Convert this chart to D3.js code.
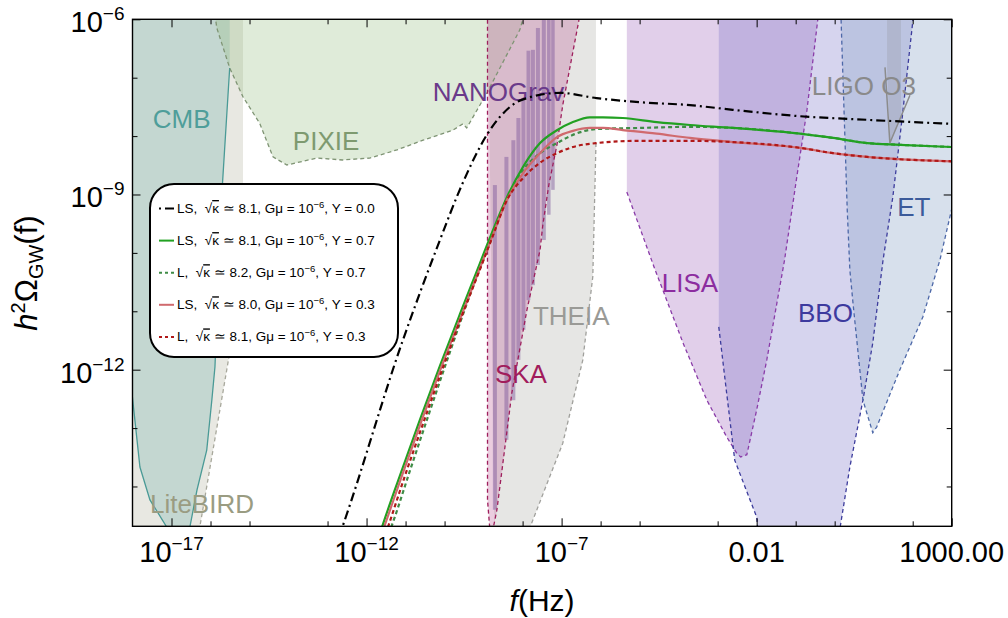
<!DOCTYPE html>
<html>
<head>
<meta charset="utf-8">
<script src="https://cdn.jsdelivr.net/npm/d3@7"></script>
<style>
  body { margin: 0; background: #fff; }
  svg { display: block; font-family: "Liberation Sans", Arial, sans-serif; }
</style>
</head>
<body>
<div id="chart"></div>
<script>
// ---------- data (f in Hz, h^2 Omega_GW) ----------

// tick values and labels
const xMajor = [1e-17, 1e-12, 1e-7, 1e-2, 1e3]
const xMinor = [1e-16, 1e-15, 1e-13, 1e-11, 1e-10, 1e-8, 1e-6, 1e-5, 1e-3, 1e-1, 1e0, 1e2]
const xTickLabels = [["10", "−17"], ["10", "−12"], ["10", "−7"], ["0.01", ""], ["1000.00", ""]]
const yMajor = [1e-12, 1e-9, 1e-6]
const yMinor = [1e-14, 1e-13, 1e-11, 1e-10, 1e-8, 1e-7]
const yTickLabels = [["10", "−12"], ["10", "−9"], ["10", "−6"]]

// sensitivity regions: stroked boundary + points closing the filled area
const liteBirdCurve = [[6.8e-16, 3.6e-11], [3.1e-16, 1.95e-12], [5.3e-17, 2.0e-15], [4.5e-17, 1.4e-15]]
const liteBirdCap = [[8e-19, 1.4e-15], [8e-19, 1.3e-6], [6.8e-16, 1.3e-6]]

const cmbCurve = [[3.1e-16, 1.47e-7], [1.95e-16, 1.02e-9], [1.3e-16, 1.12e-12], [1.08e-16, 3.0e-13],
  [8.0e-17, 4.2e-14], [4.5e-17, 8.7e-15], [2.95e-17, 2.0e-15], [2.7e-17, 1.4e-15], [8.5e-18, 1.4e-15],
  [7.6e-18, 2.0e-15], [2.8e-18, 5.9e-15], [1.55e-18, 2.15e-14], [9.5e-19, 4.5e-13], [8e-19, 1.2e-12]]
const cmbCap = [[8e-19, 1.3e-6], [3.1e-16, 1.3e-6]]

const pixieCurve = [[1.3e-16, 1.2e-6], [1.45e-16, 7.1e-7], [3.1e-16, 1.47e-7], [6.8e-16, 4.7e-8],
  [1.82e-15, 1.66e-8], [4.0e-15, 4.4e-9], [9.1e-15, 3.2e-9], [5.3e-14, 4.2e-9], [2.45e-13, 3.9e-9],
  [1.2e-12, 4.2e-9], [6.0e-12, 5.8e-9], [2.8e-11, 8.5e-9], [1.63e-10, 1.26e-8], [2.95e-10, 1.62e-8],
  [3.7e-10, 1.38e-8], [1.22e-9, 5.5e-8], [8.5e-9, 6.6e-7], [1.1e-8, 1.2e-6]]
const pixieCap = []

const theiaCurve = [[7.6e-7, 7.6e-9], [6.3e-7, 3.9e-11], [3.5e-7, 1.47e-12], [1.07e-7, 5.5e-14],
  [1.55e-8, 2.0e-15], [1.3e-8, 1.4e-15]]
const theiaCap = [[1.9e-9, 1.4e-15], [1.3e-9, 1.3e-6], [7.6e-7, 1.3e-6]]

const skaCurve = [[1.26e-9, 1.3e-6], [1.26e-9, 5.9e-15], [1.45e-9, 1.8e-15], [1.73e-9, 1.8e-15],
  [2.2e-9, 4.0e-15], [5.3e-9, 4.0e-13], [1.29e-8, 1.05e-11], [2.8e-8, 1.12e-10], [3.3e-8, 3.0e-10],
  [4.7e-8, 1.45e-9], [7.6e-8, 7.1e-9], [1.07e-7, 3.4e-8], [2.75e-7, 9.3e-7], [2.9e-7, 1.3e-6]]
const skaCap = []

const lisaCurve = [[4.7e-6, 1.1e-9], [2.5e-5, 5.1e-11], [3.95e-5, 2.3e-11], [1.29e-4, 2.9e-12],
  [5.3e-4, 3.0e-13], [1.7e-3, 7.1e-14], [3.1e-3, 3.7e-14], [3.9e-3, 3.2e-14], [5.6e-3, 3.5e-14],
  [1.0e-2, 2.04e-13], [1.82e-2, 1.47e-12], [3.3e-2, 1.38e-11], [5.2e-2, 7.6e-11], [0.107, 2.0e-9],
  [0.195, 2.8e-8], [0.37, 1e-6], [0.39, 1.3e-6]]
const lisaCap = [[4.7e-6, 1.3e-6]]

const bboCurve = [[1.07e-3, 5.4e-12], [1.7e-3, 4.0e-13], [2.75e-3, 2.8e-14], [1.0e-2, 3.0e-15],
  [1.1e-2, 1.5e-15], [1.25, 1.5e-15], [1.38, 2.0e-15], [2.45, 2.15e-14], [5.3, 3.0e-13], [9.5, 2.9e-12],
  [17.4, 7.6e-11], [31, 9.1e-10], [53, 1.9e-8], [102, 1e-6], [106, 1.3e-6]]
const bboCap = [[1.07e-3, 1.3e-6]]

const etCurve = [[1.44, 1.3e-6], [2.1, 5.4e-10], [2.45, 5.1e-11], [2.95, 1.38e-11], [5.3, 3.0e-13],
  [9.5, 8.3e-14], [12, 1.05e-13], [47, 1.0e-12], [182, 8.0e-12], [500, 7.6e-11], [1030, 6.1e-10],
  [1600, 4e-9]]
const etCap = [[2000, 1.3e-6]]

const ligoLine = [[19.5, 1.5e-7], [26, 7.6e-9], [85, 5.0e-8]]
const ligoFill = [[22, 1.3e-6], [22, 1.5e-7], [26, 7.6e-9], [50, 2.04e-8], [50, 1.3e-6]]

// NANOGrav violin bars
const nanoF = [1.95e-9, 3.85e-9, 5.8e-9, 7.8e-9, 1.05e-8, 1.41e-8, 1.84e-8, 2.47e-8, 3.5e-8, 4.7e-8, 6.0e-8]
const nanoTop = [1.45e-9, 4.4e-9, 8.5e-9, 2.04e-8, 4.2e-8, 2.9e-7, 3.0e-7, 7.1e-7, 1.2e-6, 1.2e-6, 1.2e-6]
const nanoBottom = [4.0e-15, 6.3e-14, 3.0e-13, 1.47e-12, 4.8e-12, 1.55e-11, 2.8e-11, 6.2e-11, 1.66e-10, 4.5e-10, 1.2e-9]

// GW spectra
const lsY00 = [[1.95e-13, 1.36e-15], [2.45e-13, 2.1e-15], [8.1e-12, 2.9e-12], [7.6e-11, 1.66e-10],
  [2.45e-10, 1.2e-9], [1.29e-9, 1.12e-8], [2.63e-9, 2.14e-8], [9.5e-9, 4.17e-8], [9.1e-8, 5.5e-8],
  [7.9e-7, 4.47e-8], [1.02e-5, 3.8e-8], [1.95e-4, 3.39e-8], [2.45e-3, 2.82e-8], [0.129, 2.19e-8],
  [6.76, 1.9e-8], [1000, 1.62e-8]]
const lsY07 = [[2.19e-12, 1.55e-15], [2.6e-12, 2.2e-15], [7.1e-12, 1.51e-14], [2.33e-11, 1.38e-13],
  [7.6e-11, 1.16e-12], [2.47e-10, 8.9e-12], [5.98e-10, 4.0e-11], [1.45e-9, 1.8e-10],
  [4.0e-9, 9.1e-10], [1.02e-8, 2.95e-9], [2.8e-8, 7.6e-9], [7.6e-8, 1.26e-8], [1.95e-7, 1.74e-8],
  [5.3e-7, 2.1e-8], [1.15e-6, 2.1e-8], [3.7e-6, 2.04e-8], [2.75e-5, 1.74e-8], [1.95e-4, 1.55e-8],
  [2.45e-3, 1.38e-8], [0.129, 1.1e-8], [0.91, 9.3e-9], [6.8, 7.6e-9], [47, 7.1e-9], [1000, 6.5e-9]]
const lY07 = [[3.7e-12, 1.55e-15], [4.5e-12, 2.2e-15], [1.29e-11, 1.85e-14], [4.2e-11, 1.96e-13],
  [1.37e-10, 2.0e-12], [4.46e-10, 1.9e-11], [1.45e-9, 1.48e-10], [4.0e-9, 8.7e-10], [1.02e-8, 2.6e-9],
  [2.8e-8, 5.1e-9], [7.6e-8, 7.6e-9], [1.95e-7, 1.05e-8], [7.9e-7, 1.32e-8], [1.0e-5, 1.38e-8],
  [1.95e-4, 1.44e-8], [2.45e-3, 1.38e-8], [0.129, 1.1e-8], [0.91, 9.3e-9], [6.8, 7.6e-9],
  [47, 7.1e-9], [1000, 6.5e-9]]
const lsY03 = [[2.45e-12, 1.55e-15], [2.95e-12, 2.2e-15], [8.0e-12, 1.51e-14], [2.62e-11, 1.38e-13],
  [8.5e-11, 1.16e-12], [2.78e-10, 8.9e-12], [6.7e-10, 4.0e-11], [1.54e-9, 1.66e-10],
  [4.0e-9, 8.1e-10], [1.02e-8, 2.3e-9], [2.8e-8, 5.1e-9], [7.6e-8, 9.6e-9], [1.95e-7, 1.23e-8],
  [5.3e-7, 1.38e-8], [1.15e-6, 1.38e-8], [3.7e-6, 1.27e-8], [2.75e-5, 1.1e-8], [1.95e-4, 9.3e-9],
  [2.45e-3, 7.9e-9], [0.129, 6.3e-9], [0.91, 5.1e-9], [6.8, 4.4e-9], [1000, 3.7e-9]]
const lY03 = [[3.1e-12, 1.55e-15], [3.7e-12, 2.2e-15], [9.6e-12, 1.51e-14], [3.03e-11, 1.38e-13],
  [9.4e-11, 1.16e-12], [2.88e-10, 8.9e-12], [6.9e-10, 4.0e-11], [1.54e-9, 1.6e-10],
  [4.0e-9, 8.1e-10], [1.02e-8, 1.9e-9], [2.8e-8, 3.5e-9], [7.6e-8, 5.1e-9], [1.95e-7, 6.5e-9],
  [7.9e-7, 7.6e-9], [1.0e-5, 8.3e-9], [1.95e-4, 8.3e-9], [2.45e-3, 7.9e-9], [0.129, 6.3e-9],
  [0.91, 5.1e-9], [6.8, 4.4e-9], [1000, 3.7e-9]]

// legend entries
const legendModels = ["LS", "LS", "L", "LS", "L"]
const legendKappa = ["8.1", "8.1", "8.2", "8.0", "8.1"]
const legendY = ["0.0", "0.7", "0.7", "0.3", "0.3"]

// region labels (baseline-left anchor, data coordinates)
const labelNames = ["CMB", "PIXIE", "NANOGrav", "SKA", "THEIA", "LISA", "BBO", "LIGO O3", "ET", "LiteBIRD"]
const labelF = [3.3e-18, 1.29e-14, 5.0e-11, 1.95e-9, 1.84e-8, 3.7e-5, 0.115, 0.26, 40, 2.8e-18]
const labelOmega = [1.38e-8, 5.8e-9, 4.0e-8, 5.9e-13, 5.8e-12, 2.1e-11, 6.6e-12, 5.0e-8, 4.3e-10, 3.5e-15]
const labelColors = ["#4f9e9a", "#7e9a70", "#6a3a8a", "#a11c5c", "#9a9a96", "#8c2da0", "#3d3a9e", "#8a8a8a", "#3b5b9a", "#9a9c82"]

// ---------- layout ----------
const width = 1008
const height = 618
const plot = { left: 132.5, right: 951.7, top: 19.3, bottom: 526.3 }

const x = d3.scaleLog().domain([1e-18, 1e3]).range([plot.left, plot.right])
const y = d3.scaleLog().domain([2.08e-15, 1e-6]).range([plot.bottom, plot.top])

const svg = d3.select("#chart").append("svg")
  .attr("width", width)
  .attr("height", height)
  .attr("viewBox", `0 0 ${width} ${height}`)

svg.append("clipPath").attr("id", "plot-clip")
  .append("rect")
  .attr("x", plot.left).attr("y", plot.top)
  .attr("width", plot.right - plot.left).attr("height", plot.bottom - plot.top)

const area = svg.append("g").attr("clip-path", "url(#plot-clip)")
const line = d3.line().x((d) => x(d[0])).y((d) => y(d[1]))
const smooth = d3.line().x((d) => x(d[0])).y((d) => y(d[1])).curve(d3.curveMonotoneX)

const regions = [
  { curve: liteBirdCurve, cap: liteBirdCap, fill: "#dcdcd2", op: 0.65, stroke: "#a8a89c", dash: "4,3" },
  { curve: cmbCurve, cap: cmbCap, fill: "#68aca6", op: 0.28, stroke: "#4a9a96", dash: null },
  { curve: pixieCurve, cap: pixieCap, fill: "#96be82", op: 0.3, stroke: "#7f9474", dash: "4,3" },
  { curve: theiaCurve, cap: theiaCap, fill: "#c8c8c4", op: 0.45, stroke: "#a0a09c", dash: "4,3" },
  { curve: skaCurve, cap: skaCap, fill: "#be5a96", op: 0.3, stroke: "#9e1f5c", dash: "4,3" },
  { curve: lisaCurve, cap: lisaCap, fill: "#b080c8", op: 0.38, stroke: "#8a3ca8", dash: "4,3" },
  { curve: bboCurve, cap: bboCap, fill: "#7871c8", op: 0.3, stroke: "#3c3c9c", dash: "4,3" },
  { curve: etCurve, cap: etCap, fill: "#8ca5c8", op: 0.35, stroke: "#4d68a8", dash: "4,3" },
]

// fills
regions.forEach((r) => {
  area.append("path")
    .attr("d", line(r.curve.concat(r.cap)) + "Z")
    .attr("fill", r.fill)
    .attr("fill-opacity", r.op)
})
area.append("path")
  .attr("d", line(ligoFill) + "Z")
  .attr("fill", "#808080")
  .attr("fill-opacity", 0.2)

// NANOGrav bars, width taken from the spacing to the neighbouring bar
area.selectAll(".nano")
  .data(nanoF)
  .join("rect")
  .attr("class", "nano")
  .each(function (d, i) {
    const gap = i < nanoF.length - 1 ? x(nanoF[i + 1]) - x(d) : x(d) - x(nanoF[i - 1])
    const w = Math.min(4, gap * 0.85)
    d3.select(this)
      .attr("x", x(d) - w / 2)
      .attr("width", w)
  })
  .attr("y", (d, i) => y(nanoTop[i]))
  .attr("height", (d, i) => y(nanoBottom[i]) - y(nanoTop[i]))
  .attr("fill", "#7a5498")
  .attr("fill-opacity", 0.45)

// region boundaries
regions.forEach((r) => {
  area.append("path")
    .attr("d", line(r.curve))
    .attr("fill", "none")
    .attr("stroke", r.stroke)
    .attr("stroke-width", 1.3)
    .attr("stroke-dasharray", r.dash)
})
area.append("path")
  .attr("d", line(ligoLine))
  .attr("fill", "none")
  .attr("stroke", "#8c8c8c")
  .attr("stroke-width", 1.5)

// region labels
area.selectAll(".region-label")
  .data(labelNames)
  .join("text")
  .attr("class", "region-label")
  .attr("x", (d, i) => x(labelF[i]))
  .attr("y", (d, i) => y(labelOmega[i]))
  .attr("font-size", 26)
  .attr("fill", (d, i) => labelColors[i])
  .text((d) => d)

// spectra
const curves = [
  { data: lsY00, color: "#000", dash: "9,4,2,4" },
  { data: lY07, color: "#3f8c46", dash: "4,3" },
  { data: lsY07, color: "#22a122", dash: null },
  { data: lsY03, color: "#d06a6e", dash: null },
  { data: lY03, color: "#b01818", dash: "4,3" },
]
curves.forEach((c) => {
  area.append("path")
    .attr("d", smooth(c.data))
    .attr("fill", "none")
    .attr("stroke", c.color)
    .attr("stroke-width", 2.2)
    .attr("stroke-dasharray", c.dash)
})

// ---------- axes ----------
function ticks(axis, transform, values, size) {
  svg.append("g")
    .attr("transform", transform)
    .call(axis.tickValues(values).tickSizeInner(-size).tickSizeOuter(0).tickFormat(""))
    .call((g) => g.select(".domain").remove())
    .selectAll("line").attr("stroke", "#000")
}
ticks(d3.axisBottom(x), `translate(0,${plot.bottom})`, xMajor, 8)
ticks(d3.axisBottom(x), `translate(0,${plot.bottom})`, xMinor, 5)
ticks(d3.axisTop(x), `translate(0,${plot.top})`, xMajor, 8)
ticks(d3.axisTop(x), `translate(0,${plot.top})`, xMinor, 5)
ticks(d3.axisLeft(y), `translate(${plot.left},0)`, yMajor, 8)
ticks(d3.axisLeft(y), `translate(${plot.left},0)`, yMinor, 5)
ticks(d3.axisRight(y), `translate(${plot.right},0)`, yMajor, 8)
ticks(d3.axisRight(y), `translate(${plot.right},0)`, yMinor, 5)

svg.append("rect")
  .attr("x", plot.left).attr("y", plot.top)
  .attr("width", plot.right - plot.left).attr("height", plot.bottom - plot.top)
  .attr("fill", "none")
  .attr("stroke", "#000")
  .attr("stroke-width", 1.4)

// tick labels
svg.selectAll(".xtick-label")
  .data(xMajor)
  .join("text")
  .attr("class", "xtick-label")
  .attr("x", (d) => x(d))
  .attr("y", plot.bottom + 36)
  .attr("text-anchor", "middle")
  .attr("font-size", 29)
  .each(function (d, i) {
    const [base, exp] = xTickLabels[i]
    const t = d3.select(this)
    t.append("tspan").text(base)
    if (exp) t.append("tspan").attr("dy", -12).attr("font-size", 19).text(exp)
  })

svg.selectAll(".ytick-label")
  .data(yMajor)
  .join("text")
  .attr("class", "ytick-label")
  .attr("x", plot.left - 8)
  .attr("y", (d) => y(d) + 13)
  .attr("text-anchor", "end")
  .attr("font-size", 29)
  .each(function (d, i) {
    const [base, exp] = yTickLabels[i]
    const t = d3.select(this)
    t.append("tspan").text(base)
    t.append("tspan").attr("dy", -12).attr("font-size", 19).text(exp)
  })

// axis titles
const xTitle = svg.append("text")
  .attr("x", (plot.left + plot.right) / 2)
  .attr("y", 611)
  .attr("text-anchor", "middle")
  .attr("font-size", 30)
xTitle.append("tspan").attr("font-style", "italic").text("f")
xTitle.append("tspan").text("(Hz)")

const yTitle = svg.append("text")
  .attr("transform", "translate(37,273) rotate(-90)")
  .attr("text-anchor", "middle")
  .attr("font-size", 31)
yTitle.append("tspan").attr("font-style", "italic").text("h")
yTitle.append("tspan").attr("dy", -12).attr("font-size", 20).text("2")
yTitle.append("tspan").attr("dy", 12).text("Ω")
yTitle.append("tspan").attr("dy", 6).attr("font-size", 20).text("GW")
yTitle.append("tspan").attr("dy", -6).text("(f)")

// ---------- legend ----------
const legend = svg.append("g")
legend.append("rect")
  .attr("x", 150).attr("y", 184)
  .attr("width", 248).attr("height", 173)
  .attr("rx", 24)
  .attr("fill", "#fff")
  .attr("stroke", "#000")
  .attr("stroke-width", 2)

const legendStyles = [
  { color: "#000", dash: "2,4,9,4" },
  { color: "#22a122", dash: null },
  { color: "#3f8c46", dash: "3,3" },
  { color: "#d06a6e", dash: null },
  { color: "#b01818", dash: "3,3" },
]
legendModels.forEach((m, i) => {
  const cy = 208.5 + i * 32.1
  legend.append("line")
    .attr("x1", 159).attr("x2", 174)
    .attr("y1", cy).attr("y2", cy)
    .attr("stroke", legendStyles[i].color)
    .attr("stroke-width", 2)
    .attr("stroke-dasharray", legendStyles[i].dash)
  const t = legend.append("text")
    .attr("x", 177)
    .attr("y", cy + 4.5)
    .attr("font-size", 13.5)
    .style("white-space", "pre")
  t.append("tspan").text(`${m},  √`)
  t.append("tspan").style("text-decoration", "overline").text("κ")
  t.append("tspan").text(` ≃ ${legendKappa[i]}, Gμ = 10`)
  t.append("tspan").attr("dy", -5).attr("font-size", 9.5).text("−6")
  t.append("tspan").attr("dy", 5).attr("font-size", 13.5).text(`, Y = ${legendY[i]}`)
})
</script>
</body>
</html>
